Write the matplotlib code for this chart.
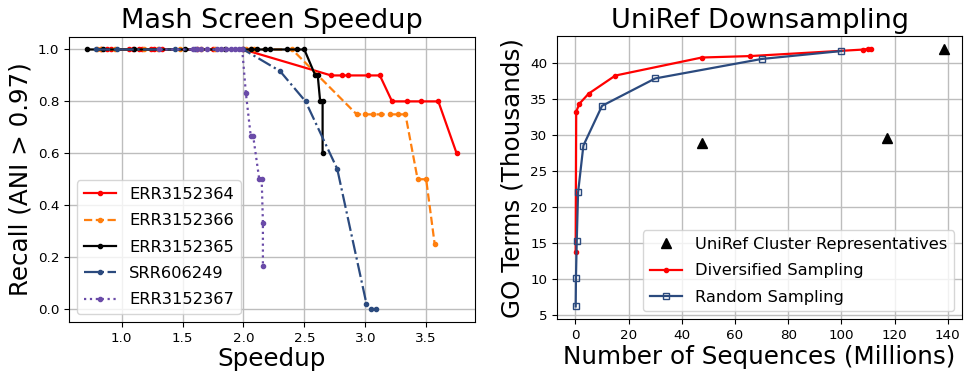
import matplotlib
matplotlib.use("Agg")
import matplotlib.pyplot as plt

# left panel: recall vs speedup for each sample
err64_x = [0.83, 0.88, 0.91, 1.06, 1.09, 1.14, 1.17, 1.24, 1.27, 1.33, 1.62, 1.75, 2.00,
           2.72, 2.81, 2.86, 3.02, 3.12, 3.22, 3.34, 3.46, 3.60, 3.75]
err64_y = [1.0] * 13 + [0.9] * 5 + [0.8] * 4 + [0.6]

err66_x = [0.80, 0.83, 0.95, 1.18, 1.30, 1.48, 1.65, 1.77, 2.02, 2.06, 2.09, 2.40,
           2.93, 3.00, 3.06, 3.13, 3.20, 3.27, 3.33, 3.43, 3.50, 3.57]
err66_y = [1.0] * 12 + [0.75] * 7 + [0.5] * 2 + [0.25]

err65_x = [0.72, 0.85, 1.10, 1.52, 1.85, 2.06, 2.11, 2.18, 2.22, 2.36, 2.44, 2.50,
           2.59, 2.61, 2.63, 2.65, 2.65]
err65_y = [1.0] * 12 + [0.9, 0.9, 0.8, 0.8, 0.6]

srr_x = [0.79, 0.96, 1.44, 1.60, 2.00, 2.30, 2.51, 2.77, 3.01, 3.05, 3.09]
srr_y = [1.0, 1.0, 1.0, 1.0, 1.0, 0.917, 0.8, 0.54, 0.02, 0.0, 0.0]

err67_x = [1.31, 1.59, 1.62, 1.65, 1.70, 1.78, 1.82, 1.86, 1.90, 1.93, 1.96, 1.99,
           2.02, 2.06, 2.08, 2.13, 2.15, 2.16, 2.16]
err67_y = [1.0] * 12 + [0.833, 0.667, 0.667, 0.5, 0.5, 0.333, 0.167]

# right panel: GO terms (thousands) vs sequences (millions)
uniref_x = [47.5, 117.2, 138.4]
uniref_y = [28.8, 29.5, 41.9]
div_x = [0.1, 0.3, 1.5, 5, 15, 47.5, 65.6, 108, 110, 111]
div_y = [13.8, 33.2, 34.3, 35.7, 38.2, 40.7, 40.9, 41.8, 41.9, 41.9]
rand_x = [0.1, 0.2, 0.5, 1, 3, 10, 30, 70, 100]
rand_y = [6.2, 10.1, 15.3, 22.0, 28.5, 34.0, 37.8, 40.5, 41.6]

navy = "#2b4a7e"
purple = "#6a4ba8"
grid_c = "#bdbdbd"

fig = plt.figure(figsize=(9.64, 3.71), dpi=100)
ax1 = fig.add_axes([0.0716, 0.1321, 0.4212, 0.7695])
ax2 = fig.add_axes([0.5781, 0.1394, 0.4198, 0.7636])

ax1.plot(err64_x, err64_y, "-", marker=".", color="red", lw=1.6, ms=6, label="ERR3152364")
ax1.plot(err66_x, err66_y, "--", marker=".", color="#ff7f0e", lw=1.6, ms=6, label="ERR3152366")
ax1.plot(err65_x, err65_y, "-", marker=".", color="black", lw=1.6, ms=6, label="ERR3152365")
ax1.plot(srr_x, srr_y, "-.", marker=".", color=navy, lw=1.6, ms=6, label="SRR606249")
ax1.plot(err67_x, err67_y, ":", marker=".", color=purple, lw=1.6, ms=6, label="ERR3152367")
ax1.grid(True, color=grid_c, lw=1)
ax1.set_axisbelow(True)
ax1.set_title("Mash Screen Speedup", fontsize=19.5)
ax1.set_xlabel("Speedup", fontsize=17.7, labelpad=2)
ax1.set_ylabel("Recall (ANI > 0.97)", fontsize=17.7)
ax1.tick_params(labelsize=9.7)
ax1.legend(loc="lower left", fontsize=11.7, labelspacing=0.7)

ax2.plot(uniref_x, uniref_y, "^", color="black", ms=7, ls="none", label="UniRef Cluster Representatives")
ax2.plot(div_x, div_y, "-", marker=".", color="red", lw=1.6, ms=6, label="Diversified Sampling")
ax2.plot(rand_x, rand_y, "-", marker="s", mfc="none", color=navy, lw=1.6, ms=5, label="Random Sampling")
ax2.grid(True, color=grid_c, lw=1)
ax2.set_axisbelow(True)
ax2.set_title("UniRef Downsampling", fontsize=19.5)
ax2.set_xlabel("Number of Sequences (Millions)", fontsize=17.7, labelpad=2)
ax2.set_ylabel("GO Terms (Thousands)", fontsize=17.7)
ax2.tick_params(labelsize=9.7)
ax2.legend(loc="lower right", fontsize=11.7, labelspacing=0.7)

fig.savefig("out.png", dpi=100)
